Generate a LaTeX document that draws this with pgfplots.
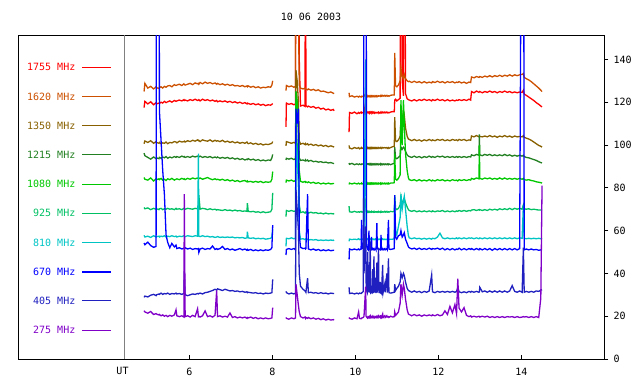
\documentclass[border=0pt]{standalone}
\usepackage{pgfplots}
\pgfplotsset{compat=1.18}
\usepackage{pgfplotstable}
\usepackage{fontspec}
\setmainfont{DejaVu Sans Mono}
\definecolor{colA}{RGB}{255,0,0}
\definecolor{colB}{RGB}{204,80,0}
\definecolor{colC}{RGB}{136,96,0}
\definecolor{colD}{RGB}{34,128,34}
\definecolor{colE}{RGB}{0,200,0}
\definecolor{colF}{RGB}{0,192,100}
\definecolor{colG}{RGB}{0,196,196}
\definecolor{colH}{RGB}{0,0,255}
\definecolor{colI}{RGB}{32,32,192}
\definecolor{colJ}{RGB}{128,0,200}
\pgfplotstableread{
t a b c d e f g h i j
4.91 117.5 125.0 100.6 96.2 84.8 70.8 57.8 54.2 28.8 22.6
4.93 120.4 128.8 101.9 95.0 84.0 70.2 57.0 53.4 29.4 22.0
5.00 119.2 126.6 101.2 94.2 83.6 70.6 57.4 54.6 29.0 21.4
5.07 120.2 127.4 102.0 93.4 84.6 69.8 56.8 53.0 29.8 22.2
5.14 118.8 126.2 100.8 94.4 83.2 70.4 57.6 52.2 30.2 20.8
5.20 119.8 127.2 101.6 93.6 84.2 70.0 57.0 52.6 29.6 21.2
5.21 119.2 126.8 101.2 94.0 83.8 70.2 57.2 300 30.0 21.0
5.27 119.6 126.4 100.8 93.6 84.2 69.8 57.4 300 30.4 20.6
5.28 119.4 126.8 101.2 94.2 83.8 70.2 57.0 116 30.2 20.8
5.32 120.0 127.2 100.6 93.8 84.4 70.4 57.4 102 30.8 20.2
5.36 119.6 126.6 101.0 94.4 83.6 69.8 57.2 88 30.2 20.6
5.40 120.4 127.4 100.8 94.0 84.0 70.2 57.6 77 30.6 20.0
5.44 119.8 127.0 101.4 94.6 83.4 70.0 57.0 58 30.4 20.4
5.48 120.2 127.6 100.6 93.8 84.2 70.4 57.4 54.5 30.8 19.8
5.53 120.6 127.8 101.2 94.4 83.8 70.0 57.2 52.0 30.2 20.4
5.58 120.0 127.2 101.0 94.0 84.4 70.2 57.6 54.0 30.6 20.0
5.64 120.8 128.2 101.6 94.6 83.6 69.8 57.2 52.4 30.4 20.6
5.68 120.4 127.8 101.4 94.2 84.0 70.4 57.4 53.2 30.8 23.0
5.70 120.6 128.0 101.0 94.6 84.2 70.0 57.0 51.6 30.4 20.2
5.76 121.0 128.4 101.8 94.2 83.8 70.2 57.4 52.0 30.6 19.8
5.82 120.6 127.8 101.4 94.8 84.4 69.8 57.2 51.4 30.2 20.2
5.87 121.2 128.6 101.6 94.4 84.0 70.4 57.6 51.8 30.6 19.6
5.88 120.8 128.2 101.8 94.6 84.2 70.2 57.4 51.6 41.0 77.0
5.90 121.0 128.0 101.4 94.2 83.8 70.0 57.2 52.0 30.0 19.8
5.96 120.6 128.4 102.0 94.6 84.4 70.4 57.6 51.4 29.6 20.2
6.02 121.2 128.8 101.6 94.2 84.0 70.2 57.4 51.8 30.0 19.6
6.08 120.8 128.2 102.2 94.8 84.6 70.0 57.2 51.2 30.4 20.4
6.14 121.4 129.0 101.8 94.4 84.2 70.4 57.6 51.6 30.2 19.8
6.20 120.8 128.6 102.4 94.8 84.6 70.2 57.4 51.4 30.6 23.5
6.22 121.0 128.8 102.0 94.6 84.4 70.2 96.0 51.6 30.4 19.8
6.23 121.2 128.4 102.2 94.4 84.2 76.6 57.4 49.8 30.6 20.0
6.26 120.6 129.2 101.6 94.8 84.6 70.0 57.2 51.4 30.8 19.6
6.32 121.4 128.6 102.4 94.2 84.0 70.4 57.6 51.8 30.4 20.2
6.38 120.8 129.4 102.0 94.6 84.4 70.2 57.2 51.2 31.0 22.5
6.44 121.2 128.8 101.8 94.2 84.8 69.8 57.4 51.6 31.2 19.8
6.50 120.6 129.2 102.4 94.6 84.2 70.2 57.0 51.4 31.6 20.2
6.56 121.0 128.6 101.6 94.0 83.8 69.8 57.2 52.8 32.0 19.6
6.62 120.4 129.0 102.2 94.4 84.2 70.0 56.8 51.2 32.6 20.4
6.66 120.8 128.4 101.8 94.0 83.8 69.6 57.0 51.6 32.2 32.0
6.68 120.2 128.8 102.0 94.4 84.0 69.8 57.2 51.2 32.8 19.8
6.74 120.6 128.2 101.6 93.8 83.6 69.6 56.8 51.6 32.4 20.2
6.80 120.2 128.6 102.2 94.2 84.0 69.4 57.0 52.6 32.0 19.6
6.86 120.6 128.0 101.4 93.8 83.4 69.8 56.8 51.2 32.6 20.0
6.92 120.0 128.4 101.8 94.2 83.8 69.4 57.0 51.6 32.2 19.6
6.98 120.4 127.8 101.2 93.6 83.2 69.6 56.8 51.0 31.8 21.5
7.04 119.8 128.2 101.6 94.0 83.6 69.2 57.0 51.4 32.0 19.4
7.10 120.2 127.6 101.0 93.4 83.0 69.6 56.6 50.8 31.6 19.8
7.16 119.6 127.8 101.4 93.8 83.4 69.2 56.8 51.2 31.8 19.2
7.22 120.0 127.4 100.8 93.2 82.8 69.4 56.6 51.6 31.4 19.6
7.28 119.4 127.8 101.2 93.6 83.2 69.0 56.8 51.0 31.6 19.2
7.34 119.8 127.2 100.8 93.0 83.4 69.2 56.4 51.4 31.2 19.6
7.39 119.2 127.6 101.4 93.4 82.8 69.0 56.6 50.8 31.4 19.0
7.40 119.6 127.2 101.0 93.2 83.2 72.8 59.5 51.2 31.0 19.4
7.42 119.4 127.6 100.6 93.6 82.8 69.0 56.6 50.8 31.2 19.2
7.48 119.0 127.0 101.0 93.0 83.0 68.8 56.4 51.2 31.0 19.6
7.54 119.4 127.4 100.4 93.4 82.6 69.0 56.6 50.6 30.8 19.0
7.60 118.8 126.8 100.8 92.8 83.0 68.6 56.2 51.0 31.0 19.4
7.66 119.2 127.2 100.2 93.2 82.6 68.8 56.4 50.6 30.6 18.8
7.72 118.6 126.6 100.6 92.6 83.0 68.4 56.2 51.0 30.8 19.2
7.78 119.0 127.0 100.0 93.0 82.4 68.8 56.4 50.6 30.4 18.8
7.84 118.4 126.8 100.4 92.6 82.8 68.4 56.0 51.0 30.8 19.2
7.90 118.8 127.2 100.2 93.0 82.6 68.6 56.2 50.8 30.6 18.8
7.96 118.6 127.0 100.6 92.8 82.8 68.8 56.4 51.2 30.8 19.0
7.99 119.0 128.0 100.8 94.0 84.0 70.0 57.0 52.0 31.0 19.2
8.01 119.4 130.0 101.6 95.6 87.6 77.6 60.6 62.6 37.2 24.0
8.02 nan nan nan nan nan nan nan nan nan nan
8.33 108.5 125.4 99.6 93.0 82.4 66.5 52.6 48.6 31.6 19.4
8.34 119.6 127.8 101.6 93.8 83.6 69.4 56.4 51.2 31.0 19.0
8.40 119.0 127.2 101.2 93.4 83.2 69.0 56.2 51.6 30.4 18.6
8.46 119.4 127.6 100.8 93.8 83.6 69.4 56.6 51.2 30.8 19.2
8.52 118.8 127.0 101.2 93.2 83.0 69.0 56.2 51.6 30.4 18.8
8.56 119.2 127.4 100.8 93.6 83.4 69.2 56.4 51.0 30.8 19.2
8.57 300 300 135 125 125 110 100 117 79 35
8.60 300 300 130 120 120 100 95 110 70 30
8.63 300 160 120 110 105 90 80 117 60 25
8.65 140 128 102 94 88 72 60 58 40 22
8.68 118.2 126.6 100.4 92.8 83.0 68.4 56.0 52.2 34.0 19.8
8.74 118.6 126.2 100.8 93.0 82.6 68.8 56.2 51.6 32.6 19.2
8.79 118.0 126.6 100.2 92.6 83.0 68.2 55.8 51.8 31.8 19.6
8.80 300 126.2 100.6 93.0 82.6 68.6 56.0 51.4 31.6 19.0
8.81 118.4 126.0 100.2 92.6 82.8 68.4 55.8 51.6 31.2 19.4
8.85 117.8 125.8 100.6 93.0 82.4 68.8 56.0 77.0 37.8 19.0
8.87 118.2 126.2 100.0 92.4 82.8 68.2 55.6 51.4 31.0 19.4
8.93 117.6 125.6 100.4 92.8 82.2 68.6 55.8 51.0 31.2 18.8
8.99 118.0 126.0 99.8 92.2 82.6 68.2 55.6 51.4 30.8 19.2
9.05 117.2 125.4 100.2 92.4 82.0 68.4 55.8 50.8 31.0 18.6
9.11 117.6 125.8 99.6 92.0 82.4 68.0 55.4 51.2 30.6 19.0
9.17 116.8 125.0 100.0 92.2 81.8 68.2 55.6 50.6 31.0 18.4
9.23 117.2 125.2 99.4 91.8 82.2 67.8 55.4 51.0 30.6 18.8
9.29 116.4 124.8 99.8 92.0 81.8 68.2 55.6 50.6 30.8 18.2
9.35 116.8 124.4 99.2 91.6 82.2 67.8 55.4 51.0 30.4 18.6
9.41 116.2 124.8 99.6 91.8 81.8 68.0 55.6 50.6 30.8 18.2
9.47 116.6 124.2 99.2 91.4 82.0 67.8 55.4 50.8 30.6 18.4
9.49 116.0 124.0 99.0 91.4 82.0 68.0 55.6 50.8 30.6 18.2
9.50 nan nan nan nan nan nan nan nan nan nan
9.85 106.0 124.4 99.8 91.6 81.6 71.4 55.0 46.5 33.5 19.4
9.86 115.2 122.6 98.6 91.0 82.2 68.8 56.0 51.4 30.6 19.0
9.92 114.8 123.0 98.2 91.4 81.8 68.6 55.8 51.0 30.8 18.6
9.98 115.4 122.4 98.8 90.8 82.2 69.0 56.0 51.4 30.4 19.2
10.04 114.6 122.8 98.4 91.2 81.8 68.6 55.8 51.0 30.8 18.8
10.08 115.2 122.4 98.8 90.8 82.2 68.8 56.2 51.4 30.4 22.0
10.10 114.8 122.8 98.2 91.2 81.8 68.6 55.8 51.0 30.8 19.0
10.14 115.4 122.4 98.6 90.8 82.0 69.0 56.0 51.4 30.6 18.8
10.15 115.0 122.6 98.8 91.0 82.2 68.8 56.2 65.0 30.8 19.0
10.16 115.2 122.8 98.4 91.2 81.8 68.6 55.8 51.6 31.0 19.2
10.19 115.0 122.6 98.6 91.0 82.0 68.8 56.0 52.0 31.5 19.4
10.20 115.4 123.0 98.8 91.2 82.2 69.0 56.2 52.0 75.0 19.6
10.21 115.0 122.8 98.6 91.0 82.0 70.0 60.0 300 40.0 20.0
10.25 120.0 124.0 100.0 92.0 83.0 74.0 140.0 300 62.0 33.8
10.26 115.4 123.0 98.8 91.2 82.2 69.0 57.0 300 36.0 20.0
10.27 115.0 122.8 98.6 91.0 82.0 68.8 56.4 53.0 32.0 19.6
10.29 115.2 122.6 98.4 91.2 81.8 68.6 56.0 51.4 31.0 19.2
10.30 115.4 123.0 98.8 91.0 82.2 69.0 56.2 51.6 50.0 19.6
10.31 115.0 122.6 98.4 91.2 81.8 68.6 55.8 51.2 31.2 19.2
10.33 115.4 123.0 98.8 90.8 82.2 69.0 56.2 60.0 44.0 19.8
10.34 114.8 122.6 98.4 91.2 81.8 68.6 55.8 51.4 31.0 19.4
10.36 115.4 123.0 98.8 90.8 82.2 68.8 56.2 51.0 55.0 20.2
10.37 115.0 122.6 98.4 91.2 81.8 68.6 55.8 51.4 30.8 19.4
10.39 115.4 123.0 98.8 90.8 82.2 69.0 56.2 57.0 31.2 19.8
10.40 114.8 122.6 98.4 91.2 81.8 68.6 55.8 51.2 31.0 19.4
10.42 115.4 123.0 98.8 90.8 82.2 68.8 56.2 51.6 42.0 20.0
10.43 115.0 122.6 98.4 91.2 81.8 68.6 55.8 51.2 30.8 19.4
10.45 115.4 123.0 98.8 90.8 82.2 69.0 56.0 51.6 48.0 19.8
10.46 114.8 122.6 98.4 91.2 81.8 68.6 55.8 51.0 31.0 19.2
10.49 115.2 123.0 98.8 90.8 82.2 68.8 56.2 51.4 38.0 19.8
10.50 115.0 122.6 98.4 91.2 81.8 68.6 55.8 51.0 30.8 19.4
10.52 115.2 123.0 98.8 90.8 82.2 68.8 56.2 63.5 45.0 20.0
10.53 115.0 122.6 98.4 91.2 81.8 68.6 55.8 51.6 31.0 19.4
10.56 115.4 123.0 98.8 90.8 82.2 69.0 56.0 51.2 52.0 20.2
10.57 114.8 122.8 98.4 91.2 81.8 68.6 55.8 51.4 30.8 19.4
10.60 115.2 123.0 98.8 90.8 82.2 68.8 56.2 51.0 36.0 20.0
10.61 115.0 122.8 98.6 91.2 81.8 68.6 55.8 51.4 31.0 19.4
10.62 115.4 123.2 98.8 90.8 82.2 69.0 56.0 58.0 31.2 19.8
10.63 115.0 122.8 98.4 91.2 81.8 68.6 55.8 51.2 30.8 19.4
10.66 115.4 123.2 98.8 90.8 82.2 68.8 56.2 51.6 44.0 21.0
10.67 115.0 122.8 98.6 91.2 81.8 68.6 55.8 51.0 31.0 19.4
10.71 115.4 123.2 98.8 90.8 82.2 69.0 56.0 51.6 35.0 20.2
10.72 115.0 122.8 98.6 91.2 81.8 68.6 55.8 51.0 31.2 19.4
10.76 115.4 123.2 98.8 90.8 82.2 69.0 56.0 51.6 40.0 20.2
10.77 115.0 122.8 98.4 91.2 81.8 68.6 55.8 51.2 31.0 19.6
10.80 115.2 123.0 98.8 90.8 82.2 68.8 56.2 65.0 47.0 19.8
10.81 115.0 122.8 98.4 91.2 81.8 68.6 55.8 51.4 31.0 19.4
10.85 115.4 123.2 98.8 90.8 82.2 69.0 56.0 51.2 30.8 20.0
10.90 115.6 123.4 99.2 91.2 82.2 68.8 56.0 51.4 31.0 19.6
10.94 115.6 123.4 99.4 91.4 82.4 69.0 56.2 51.6 31.2 19.8
10.95 121.0 143.0 113.0 99.0 96.0 76.6 75.0 76.6 35.0 22.0
10.97 121.4 127.8 102.0 94.0 84.0 70.4 60.0 57.0 32.0 20.4
11.00 120.6 127.2 101.6 93.6 83.6 69.8 58.0 56.0 33.0 21.0
11.04 121.2 128.0 102.4 94.2 84.4 70.4 62.0 57.6 34.0 22.0
11.08 121.8 130.0 104.0 95.0 86.0 72.0 66.0 58.0 36.0 26.0
11.10 300 136.0 112.0 99.0 121.0 75.8 77.0 60.0 40.0 35.0
11.13 130.0 132.0 110.0 98.0 100.0 72.0 70.0 57.0 38.0 30.0
11.16 123.0 131.0 116.4 99.0 121.0 74.0 74.0 58.0 40.0 35.0
11.18 300 133.0 114.0 98.6 110.0 75.0 76.0 59.0 39.0 33.0
11.21 124.0 131.0 108.0 97.0 96.0 73.0 70.0 56.0 36.0 28.0
11.25 121.6 130.0 104.0 95.4 88.0 71.0 62.0 54.0 33.0 23.0
11.28 121.2 129.6 102.8 94.8 84.6 69.8 57.6 52.4 32.0 21.0
11.30 121.0 129.8 102.6 94.6 83.8 69.4 56.6 52.0 31.8 20.8
11.36 120.6 129.2 102.0 94.2 83.4 69.0 56.2 51.4 31.2 20.2
11.42 121.2 129.8 102.6 94.8 83.8 69.4 56.6 51.8 31.8 20.8
11.48 120.6 129.2 102.0 94.2 83.2 68.8 56.2 51.2 31.2 20.2
11.54 121.2 129.6 102.4 94.6 83.8 69.2 56.4 51.8 31.6 20.6
11.60 120.8 129.0 101.8 94.0 83.2 68.8 56.0 51.2 31.0 20.0
11.66 121.4 129.6 102.4 94.6 83.6 69.2 56.4 51.6 31.6 20.6
11.72 120.8 129.0 102.0 94.2 83.2 68.8 56.0 51.2 31.2 20.2
11.78 121.2 129.4 102.6 94.8 83.8 69.2 56.4 51.8 31.8 20.6
11.84 120.6 129.0 102.0 94.2 83.2 68.8 56.0 51.2 39.3 20.2
11.86 121.2 129.6 102.4 94.6 83.6 69.2 56.4 51.6 31.4 20.6
11.92 120.8 129.2 102.0 94.2 83.2 68.8 56.2 51.4 31.0 20.2
11.98 121.4 129.8 102.6 94.8 83.8 69.2 57.0 51.8 31.6 20.8
12.04 120.8 129.2 102.2 94.4 83.4 69.0 58.8 51.2 31.2 20.2
12.10 121.2 129.6 102.6 94.8 83.8 69.4 56.6 51.8 31.6 20.6
12.16 120.6 129.0 102.0 94.2 83.2 68.8 56.2 51.0 31.2 22.5
12.22 121.2 129.6 102.4 94.6 83.6 69.2 56.6 51.6 31.6 20.8
12.28 120.6 129.2 102.0 94.2 83.2 68.8 56.2 51.0 31.2 24.6
12.34 121.0 129.6 102.6 94.6 83.8 69.2 56.4 51.6 31.6 21.6
12.40 120.6 129.0 102.2 94.2 83.4 68.8 56.2 51.0 31.2 25.4
12.44 121.0 129.4 102.4 94.6 83.6 69.2 56.6 51.4 31.6 21.2
12.47 120.8 129.2 102.0 94.2 83.2 69.0 56.2 51.2 33.5 37.5
12.50 121.2 129.6 102.6 94.6 83.8 69.4 56.6 51.8 31.4 23.8
12.56 120.8 129.0 102.2 94.2 83.4 69.0 56.2 51.0 31.0 22.0
12.62 121.2 129.4 102.6 94.6 83.8 69.4 56.6 51.6 31.4 24.0
12.68 120.8 128.8 102.0 94.2 83.4 69.0 56.2 51.0 31.0 20.4
12.74 121.4 129.4 102.4 94.6 83.8 69.4 56.6 51.6 31.6 19.8
12.78 121.0 129.2 102.2 94.4 83.6 69.2 56.4 51.2 31.2 20.2
12.80 125.0 131.8 104.2 95.4 84.4 69.6 56.6 51.6 31.6 19.6
12.86 124.4 131.4 103.8 95.0 84.0 69.8 56.2 51.0 31.2 20.0
12.92 125.2 132.0 104.4 95.6 84.6 69.4 56.6 51.6 31.6 19.6
12.98 124.6 131.6 103.8 95.2 84.2 69.8 56.2 51.0 31.2 20.0
12.99 124.8 131.8 104.2 105.0 100.0 69.6 56.4 51.4 31.4 19.8
13.00 125.0 132.0 104.0 95.4 84.4 69.8 56.6 51.6 33.5 19.6
13.06 124.4 131.6 103.8 95.0 84.0 69.4 56.2 51.0 31.4 20.0
13.12 125.0 132.2 104.2 95.6 84.6 69.8 56.6 51.6 31.8 19.6
13.18 124.6 131.8 103.8 95.2 84.2 69.4 56.2 51.0 31.2 20.0
13.24 125.2 132.4 104.4 95.6 84.6 70.0 56.6 51.6 31.8 19.4
13.30 124.6 131.8 103.8 95.0 84.0 69.6 56.2 50.8 31.2 19.8
13.36 125.0 132.4 104.2 95.4 84.4 70.0 56.6 51.6 31.8 19.4
13.42 124.4 132.0 103.6 95.0 84.0 69.6 56.2 51.0 31.2 19.8
13.48 125.0 132.6 104.2 95.4 84.6 70.2 56.6 51.6 31.8 19.4
13.54 124.6 132.0 103.8 95.0 84.0 69.8 56.2 51.0 31.2 19.8
13.60 125.2 132.6 104.4 95.6 84.6 70.2 56.6 51.6 31.8 19.4
13.66 124.6 132.2 103.8 95.0 84.0 69.8 56.2 51.0 31.2 19.8
13.72 125.0 132.8 104.2 95.4 84.4 70.4 56.6 51.6 31.8 19.6
13.78 124.4 132.2 103.6 94.8 84.0 69.8 56.2 51.0 34.3 19.8
13.84 124.8 132.8 104.2 95.2 84.4 70.4 56.6 51.6 31.6 19.4
13.90 124.4 132.4 103.8 94.8 84.0 70.0 56.2 51.0 31.2 19.8
13.96 124.8 132.8 104.0 95.2 84.4 70.4 56.6 51.6 31.8 19.4
14.02 124.6 133.0 103.8 94.8 84.0 70.0 56.4 300 31.2 19.6
14.05 125.6 133.4 104.4 95.2 84.4 72.0 72.0 300 52.0 19.8
14.07 123.8 131.6 103.6 94.6 83.8 70.2 56.4 51.0 31.2 19.6
14.12 123.2 131.0 103.2 94.2 83.6 70.0 56.2 51.4 31.6 19.8
14.18 122.4 130.4 102.8 94.0 83.8 70.2 56.4 51.0 31.2 19.4
14.24 121.6 129.6 102.2 93.6 83.4 69.8 56.2 51.4 31.6 19.8
14.30 120.8 128.6 101.4 93.2 83.2 70.0 56.4 51.0 31.2 19.4
14.36 119.8 127.6 100.6 92.8 82.8 69.8 56.2 51.2 31.8 19.8
14.42 119.0 126.6 99.8 92.2 82.6 69.6 56.4 50.8 31.6 19.4
14.47 118.2 125.6 99.4 91.8 82.4 69.6 56.2 51.0 32.2 28.5
14.50 117.8 125.0 99.0 91.6 82.2 69.6 56.4 51.2 32.4 81.0
}\datatable
\begin{document}
\fontsize{10}{12}\selectfont
\begin{tikzpicture}[x=1pt,y=1pt]
\useasboundingbox (0,0) rectangle (640,384);
% frame
\draw[line width=1pt,black] (18.3,25) rectangle (604.3,349);
\draw[line width=1pt,gray] (124.3,25) -- (124.3,349);
\node at (311,367) {10 06 2003};
\node at (122.5,13) {UT};
% legend
\foreach \lab/\col/\yy in {1755 MHz/colA/316.7,1620 MHz/colB/287.5,1350 MHz/colC/258.3,1215 MHz/colD/229.1,1080 MHz/colE/199.9,925 MHz/colF/170.7,810 MHz/colG/141.5,670 MHz/colH/112,405 MHz/colI/83.1,275 MHz/colJ/53.9}{
  \node[anchor=east,text=\col,inner sep=0pt] at (75.5,\yy) {\lab};
  \draw[draw=\col,line width=1.1pt] (82,\yy) -- (110.7,\yy);
}
\begin{axis}[
  at={(124.3pt,25pt)}, anchor=south west,
  width=480pt, height=324pt, scale only axis,
  xmin=4.434, xmax=16, ymin=0, ymax=151.4,
  axis line style={draw=none},
  xtick={6,8,10,12,14}, ytick={0,20,40,60,80,100,120,140},
  xtick pos=bottom, ytick pos=right, yticklabel pos=right,
  xtick align=inside, ytick align=outside,
  major tick length=4pt,
  every tick/.style={black,line width=1pt},
  tick label style={font=\fontsize{10}{12}\selectfont},
  /pgf/number format/assume math mode=true,
  xticklabel style={anchor=center,yshift=-12.5pt},
  yticklabel style={anchor=west,inner sep=0pt,xshift=5pt},
  unbounded coords=jump,
  every axis plot/.append style={line width=1.3pt},
]
\addplot[colA,no markers] table[x=t,y=a]{\datatable};
\addplot[colB,no markers] table[x=t,y=b]{\datatable};
\addplot[colC,no markers] table[x=t,y=c]{\datatable};
\addplot[colD,no markers] table[x=t,y=d]{\datatable};
\addplot[colE,no markers] table[x=t,y=e]{\datatable};
\addplot[colF,no markers] table[x=t,y=f]{\datatable};
\addplot[colG,no markers] table[x=t,y=g]{\datatable};
\addplot[colH,no markers] table[x=t,y=h]{\datatable};
\addplot[colI,no markers] table[x=t,y=i]{\datatable};
\addplot[colJ,no markers] table[x=t,y=j]{\datatable};
\end{axis}
\end{tikzpicture}
\end{document}
